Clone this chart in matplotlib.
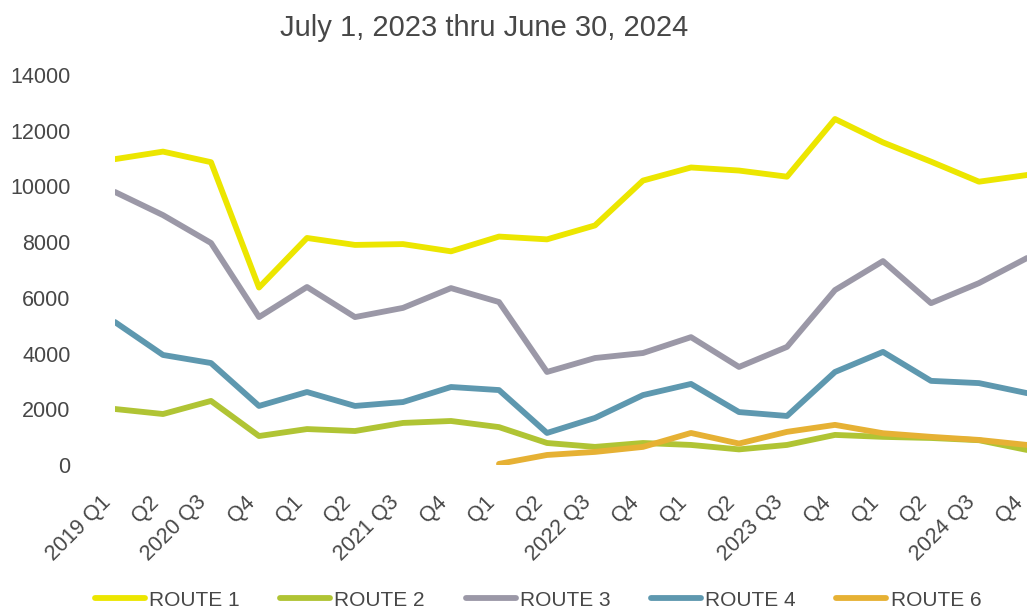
import matplotlib
matplotlib.use("Agg")
import matplotlib.pyplot as plt
import numpy as np

plt.rcParams['font.family'] = ['Liberation Sans', 'DejaVu Sans']

title = "July 1, 2023 thru June 30, 2024"

quarters = ["2019 Q1", "Q2", "2020 Q3", "Q4", "Q1", "Q2", "2021 Q3", "Q4",
            "Q1", "Q2", "2022 Q3", "Q4", "Q1", "Q2", "2023 Q3", "Q4",
            "Q1", "Q2", "2024 Q3", "Q4"]

route1 = [10980, 11250, 10870, 6370, 8150, 7900, 7930, 7670, 8200, 8100,
          8600, 10210, 10680, 10570, 10350, 12420, 11580, 10890, 10170, 10410]
route2 = [2010, 1830, 2300, 1040, 1290, 1220, 1510, 1580, 1360, 790,
          650, 790, 720, 560, 720, 1080, 1010, 970, 890, 540]
route3 = [9800, 8970, 7970, 5310, 6390, 5310, 5640, 6350, 5850, 3340,
          3840, 4020, 4590, 3520, 4240, 6280, 7320, 5810, 6530, 7430]
route4 = [5130, 3950, 3660, 2120, 2620, 2120, 2260, 2800, 2690, 1150,
          1690, 2510, 2910, 1900, 1760, 3340, 4060, 3020, 2940, 2580]
# Route 6 begins service in 2022 Q1
route6 = [None] * 8 + [40, 360, 470, 650, 1150, 770, 1190, 1440,
                       1140, 1010, 900, 720]

series = [
    ("ROUTE 1", route1, "#ECE600"),
    ("ROUTE 2", route2, "#B0C434"),
    ("ROUTE 3", route3, "#9B98A7"),
    ("ROUTE 4", route4, "#5E98AF"),
    ("ROUTE 6", route6, "#E6B134"),
]

text_color = "#474747"

fig = plt.figure(figsize=(10.28, 6.11), dpi=100)
ax = fig.add_axes([115 / 1028, 1 - 465 / 611, (1027 - 115) / 1028, (465 - 75) / 611])

x = np.arange(len(quarters))
for name, vals, color in series:
    y = np.array([np.nan if v is None else v for v in vals], dtype=float)
    ax.plot(x, y, color=color, lw=4.2, label=name,
            solid_joinstyle="round", solid_capstyle="round")

ax.set_xlim(0, len(quarters) - 1)
ax.set_ylim(0, 14000)
ax.set_yticks(np.arange(0, 14001, 2000))
ax.set_xticks(x)
ax.set_xticklabels(quarters, rotation=45, ha="right", va="bottom",
                   rotation_mode="anchor", fontsize=15.5, color=text_color)
ax.tick_params(axis="x", length=0, pad=30)
ax.tick_params(axis="y", length=0, pad=32, labelsize=15.5, labelcolor=text_color)
for s in ax.spines.values():
    s.set_visible(False)

fig.text(484 / 1028, 1 - 28 / 611, title, ha="center", va="center",
         fontsize=21, color=text_color)

fig.legend(loc="center", bbox_to_anchor=(538 / 1028, 1 - 600 / 611),
           ncol=5, frameon=False, fontsize=15, handlelength=2.4,
           handletextpad=0.2, columnspacing=1.95, labelcolor=text_color)

fig.savefig("out.png", dpi=100)
